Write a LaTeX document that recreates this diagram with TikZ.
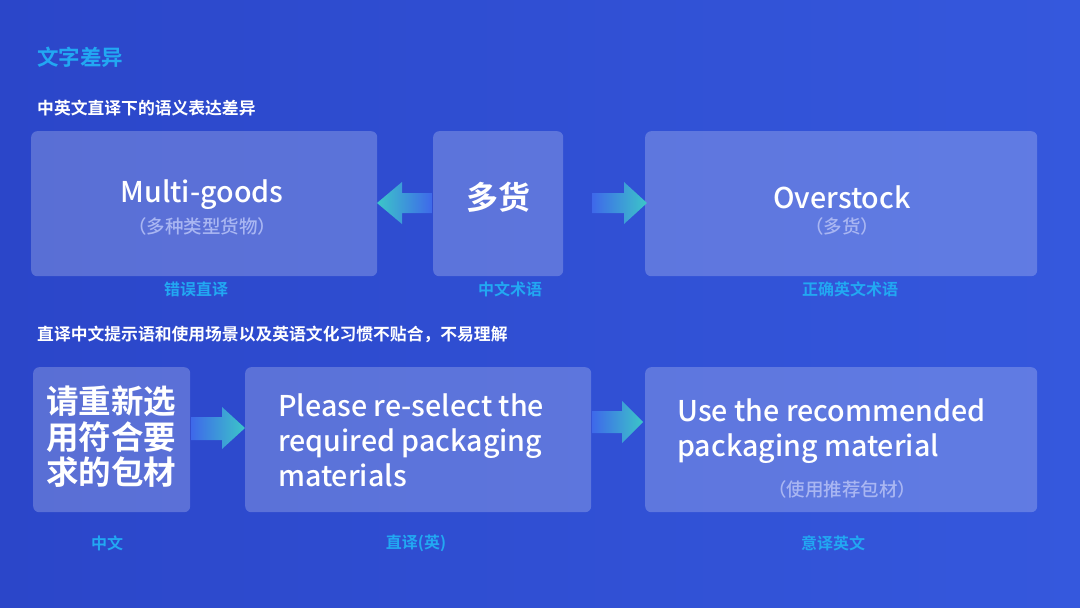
\documentclass[tikz,border=0pt]{standalone}
\usepackage{fontspec}
\setmainfont{Noto Sans CJK SC}[BoldFont={Noto Sans CJK SC Bold}]
\newfontfamily\medfont{Noto Sans CJK SC Medium}
\usetikzlibrary{positioning}
\definecolor{bgl}{HTML}{2B46C9}
\definecolor{bgr}{HTML}{3558DD}
\definecolor{cyanlab}{HTML}{22A8F2}
\definecolor{subtxt}{HTML}{A9B6F2}
\definecolor{arrtip}{HTML}{3CC6C8}
\definecolor{arrtail}{HTML}{3E68EA}
\tikzset{
  card/.style={fill=white, fill opacity=0.22, rounded corners=6pt, draw=none, inner sep=0pt, anchor=north west},
  lab/.style={text=cyanlab, font=\bfseries\fontsize{16}{18}\selectfont, inner sep=0pt},
  head/.style={text=white, font=\bfseries\fontsize{16.8}{19}\selectfont, inner sep=0pt, anchor=west},
  big/.style={text=white, font=\medfont\fontsize{28.6}{34.7}\selectfont, inner sep=0pt},
  sub/.style={text=subtxt, font=\medfont\fontsize{18.5}{21}\selectfont, inner sep=0pt},
}
\begin{document}
\begin{tikzpicture}[x=1pt,y=-1pt]
\useasboundingbox (0,0) rectangle (1080,608);
\shade[left color=bgl, right color=bgr] (0,0) rectangle (1080,608);

\node[text=cyanlab, font=\bfseries\fontsize{21.5}{24}\selectfont, inner sep=0pt, anchor=west] (title) at (37,57) {文字差异};
\node[head] (h1) at (37,108) {中英文直译下的语义表达差异};
\node[head] (h2) at (37,334) {直译中文提示语和使用场景以及英语文化习惯不贴合，不易理解};

% row 1 cards
\node[card, minimum width=346pt, minimum height=145pt] (b1) at (31,131) {};
\node[card, minimum width=130pt, minimum height=145pt] (b2) at (433,131) {};
\node[card, minimum width=392pt, minimum height=145pt] (b3) at (645,131) {};
% row 2 cards
\node[card, minimum width=157pt, minimum height=145pt] (b4) at (33,367) {};
\node[card, minimum width=346pt, minimum height=145pt] (b5) at (245,367) {};
\node[card, minimum width=392pt, minimum height=145pt] (b6) at (645,367) {};

% row 1 texts
\node[big, anchor=base] (t1) at (202,202) {Multi-goods};
\node[sub] (s1) at (202,226) {（多种类型货物）};
\node[text=white, font=\bfseries\fontsize{32}{34}\selectfont, inner sep=0pt] (t2) at (498,197) {多货};
\node[big, anchor=base] (t3) at (842,208) {Overstock};
\node[sub] (s3) at (842,226) {（多货）};

\node[lab] (l1) at (196,289) {错误直译};
\node[lab] (l2) at (510,289) {中文术语};
\node[lab] (l3) at (850,289) {正确英文术语};

% row 2 texts
\node[text=white, font=\bfseries\fontsize{32.5}{35.5}\selectfont, inner sep=0pt, anchor=north west, align=left] (t4) at (46,386) {请重新选\\用符合要\\求的包材};
\node[big, anchor=north west, align=left] (t5) at (278,394) {Please re-select the\\required packaging\\materials};
\node[big, anchor=north west, align=left] (t6) at (677,399) {Use the recommended\\packaging material};
\node[sub] (s6) at (842,489) {（使用推荐包材）};

\node[lab] (l4) at (107,543) {中文};
\node[lab] (l5) at (416,543) {直译(英)};
\node[lab] (l6) at (833,543) {意译英文};

% arrows
\shade[left color=arrtip, right color=arrtail]
  (377,203) -- (402,182) -- (402,193) -- (432,193) -- (432,213) -- (402,213) -- (402,224) -- cycle;
\shade[left color=arrtail, right color=arrtip]
  (647,203) -- (624,182) -- (624,193) -- (592,193) -- (592,213) -- (624,213) -- (624,224) -- cycle;
\shade[left color=arrtail, right color=arrtip]
  (245,428) -- (222,407) -- (222,417) -- (191,417) -- (191,440) -- (222,440) -- (222,449) -- cycle;
\shade[left color=arrtail, right color=arrtip]
  (643,422) -- (622,401) -- (622,411) -- (592,411) -- (592,433) -- (622,433) -- (622,443) -- cycle;
\end{tikzpicture}
\end{document}
